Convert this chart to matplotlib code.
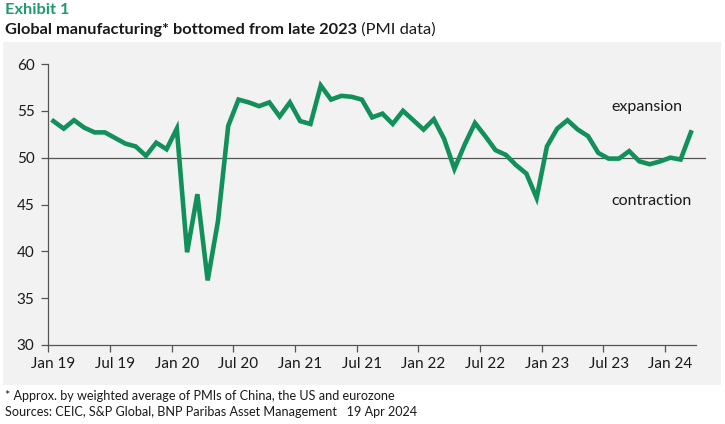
import matplotlib
matplotlib.use("Agg")
import matplotlib.pyplot as plt
from matplotlib.patches import Rectangle

plt.rcParams['font.family'] = ['Lato', 'DejaVu Sans']

# Monthly PMI, Jan 2019 .. Mar 2024
pmi = [53.9, 53.1, 54.0, 53.2, 52.7, 52.7, 52.1, 51.5, 51.2, 50.2, 51.6, 50.9,
       53.1, 39.9, 46.1, 36.9, 43.2, 53.4, 56.2, 55.9, 55.5, 55.9, 54.4, 55.9,
       53.9, 53.6, 57.7, 56.2, 56.6, 56.5, 56.2, 54.3, 54.7, 53.6, 55.0, 54.0,
       53.0, 54.1, 52.0, 48.8, 51.4, 53.7, 52.3, 50.8, 50.3, 49.2, 48.3, 45.7,
       51.2, 53.1, 54.0, 53.0, 52.3, 50.5, 49.9, 49.9, 50.7, 49.6, 49.3, 49.6,
       50.0, 49.8, 52.7]
tick_labels = ["Jan 19", "Jul 19", "Jan 20", "Jul 20", "Jan 21", "Jul 21",
               "Jan 22", "Jul 22", "Jan 23", "Jul 23", "Jan 24"]
y_ticks = [30, 35, 40, 45, 50, 55, 60]

GREEN = '#12905a'
TXT = '#1a1a1a'

fig = plt.figure(figsize=(7.25, 4.24), dpi=100)
fig.patch.set_facecolor('white')
# grey panel
fig.add_artist(Rectangle((3/725, 1-385/424), 718/725, (385-42)/424,
                         transform=fig.transFigure, facecolor='#f2f2f2',
                         edgecolor='none', zorder=0))

ax = fig.add_axes([48.3/725, 1-345/424, (696-48.3)/725, (345-64)/424])
ax.set_facecolor('none')
x = list(range(len(pmi)))
ax.plot(x, pmi, color=GREEN, lw=3.3, solid_joinstyle='miter', zorder=3)
ax.axhline(50, xmin=0, xmax=1.014, color='#555555', lw=0.9, clip_on=False, zorder=2)

ax.set_xlim(-0.5, len(pmi) - 0.5)
ax.set_ylim(30, 60)
ax.set_yticks(y_ticks)
ax.set_yticklabels([str(v) for v in y_ticks], fontsize=11, color=TXT)
for s in ['top', 'right']:
    ax.spines[s].set_visible(False)
for s in ['left', 'bottom']:
    ax.spines[s].set_color('#555555')
    ax.spines[s].set_linewidth(0.9)
ax.tick_params(axis='y', length=5, width=0.9, color='#555555', pad=5)

# major ticks at category boundaries (no labels), minor positions carry labels
ax.set_xticks([i - 0.5 for i in range(0, 61, 6)])
ax.set_xticklabels([])
ax.tick_params(axis='x', which='major', length=5, width=0.9, color='#555555')
ax.set_xticks(list(range(0, 61, 6)), minor=True)
ax.set_xticklabels(tick_labels, minor=True, fontsize=11, color=TXT)
ax.tick_params(axis='x', which='minor', length=0, pad=9)

fig.text(646.7/725, 1-106.7/424, "expansion", ha='center', va='center',
         fontsize=11.5, color=TXT)
fig.text(651/725, 1-200.7/424, "contraction", ha='center', va='center',
         fontsize=11.5, color=TXT)

fig.text(5/725, 1-10/424, "Exhibit 1", fontsize=11.8, fontweight='bold',
         color='#1f9a6a', va='center', ha='left')
t1 = fig.text(5/725, 1-30/424, "Global manufacturing* bottomed from late 2023",
              fontsize=11.8, fontweight='bold', color=TXT, va='center', ha='left')
ax.annotate(" (PMI data)", xy=(1, 0.5), xycoords=t1, va='center', ha='left',
            fontsize=11.8, color=TXT, annotation_clip=False)

fig.text(5/725, 1-396/424, "* Approx. by weighted average of PMIs of China, the US and eurozone",
         fontsize=9.1, color=TXT, va='center', ha='left')
fig.text(5/725, 1-412/424, "Sources: CEIC, S&P Global, BNP Paribas Asset Management   19 Apr 2024",
         fontsize=9.1, color=TXT, va='center', ha='left')

fig.savefig("out.png", dpi=100)
